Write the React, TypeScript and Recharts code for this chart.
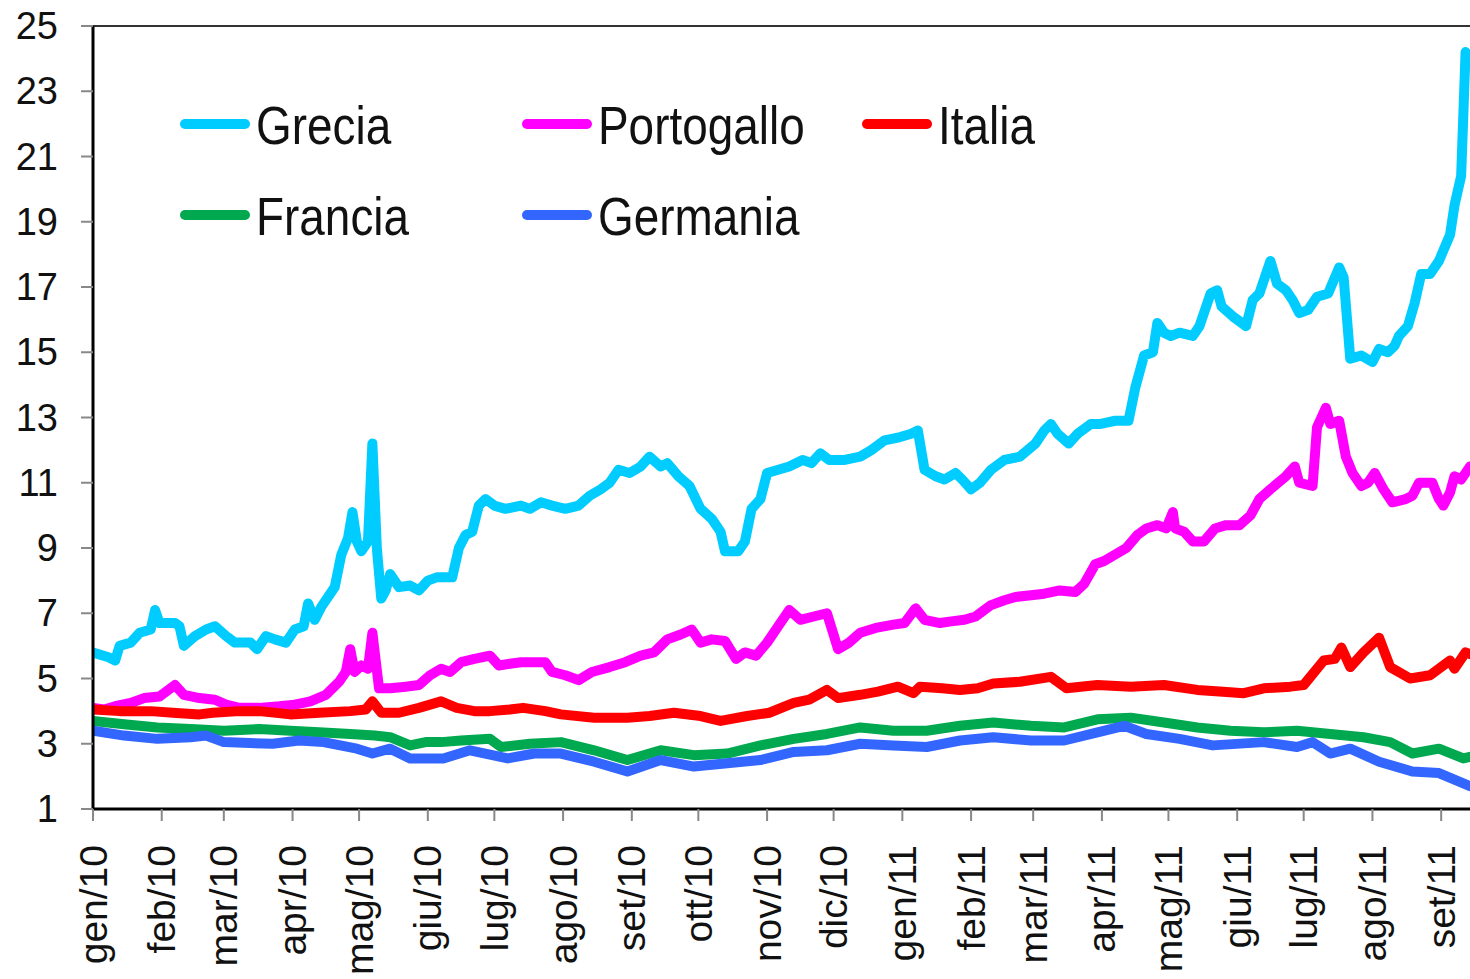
import React from "react";
import { LineChart, Line, XAxis, YAxis, ReferenceLine, Legend } from "recharts";

const monthTicks = [0, 31, 59, 90, 120, 151, 181, 212, 243, 273, 304, 334, 365, 396, 424, 455, 485, 516, 546, 577, 608];
const monthLabels = ["gen/10", "feb/10", "mar/10", "apr/10", "mag/10", "giu/10", "lug/10", "ago/10", "set/10", "ott/10", "nov/10", "dic/10", "gen/11", "feb/11", "mar/11", "apr/11", "mag/11", "giu/11", "lug/11", "ago/11", "set/11"];
const yTicks = [1, 3, 5, 7, 9, 11, 13, 15, 17, 19, 21, 23, 25];

// Grecia
const greciaDays = [0, 7, 10, 12, 17, 21, 26, 28, 30, 37, 39, 41, 46, 51, 55, 60, 64, 71, 74, 78, 82, 87, 91, 95, 97, 100, 103, 109, 112, 115, 117, 119, 121, 124, 126, 128, 130, 132, 134, 138, 143, 147, 151, 155, 162, 165, 168, 171, 174, 177, 181, 186, 193, 197, 202, 207, 213, 219, 224, 229, 233, 237, 242, 247, 251, 256, 259, 264, 269, 274, 279, 283, 285, 291, 294, 297, 301, 304, 309, 314, 320, 324, 328, 332, 339, 346, 351, 357, 364, 369, 372, 375, 380, 384, 389, 392, 396, 400, 405, 411, 418, 425, 429, 432, 435, 440, 444, 450, 454, 461, 467, 470, 474, 478, 480, 483, 486, 490, 496, 499, 504, 507, 509, 514, 520, 523, 526, 531, 534, 538, 541, 544, 548, 552, 557, 562, 564, 567, 572, 577, 580, 584, 587, 589, 593, 596, 599, 603, 607, 612, 614, 617, 619];
const greciaVals = [5.8, 5.65, 5.55, 6.0, 6.1, 6.4, 6.5, 7.1, 6.7, 6.7, 6.6, 6.0, 6.3, 6.5, 6.6, 6.3, 6.1, 6.1, 5.9, 6.3, 6.2, 6.1, 6.5, 6.6, 7.3, 6.8, 7.2, 7.8, 8.8, 9.3, 10.1, 9.2, 8.9, 9.2, 12.2, 9.0, 7.45, 7.7, 8.2, 7.8, 7.85, 7.7, 8.0, 8.1, 8.1, 9.0, 9.4, 9.5, 10.3, 10.5, 10.3, 10.2, 10.3, 10.2, 10.4, 10.3, 10.2, 10.3, 10.6, 10.8, 11.0, 11.4, 11.3, 11.5, 11.8, 11.5, 11.6, 11.2, 10.9, 10.2, 9.9, 9.5, 8.9, 8.9, 9.2, 10.2, 10.5, 11.3, 11.4, 11.5, 11.7, 11.6, 11.9, 11.7, 11.7, 11.8, 12.0, 12.3, 12.4, 12.5, 12.6, 11.4, 11.2, 11.1, 11.3, 11.1, 10.8, 11.0, 11.4, 11.7, 11.8, 12.2, 12.6, 12.8, 12.5, 12.2, 12.5, 12.8, 12.8, 12.9, 12.9, 13.9, 14.9, 15.0, 15.9, 15.6, 15.5, 15.6, 15.5, 15.8, 16.8, 16.9, 16.4, 16.1, 15.8, 16.6, 16.8, 17.8, 17.1, 16.9, 16.6, 16.2, 16.3, 16.7, 16.8, 17.6, 17.3, 14.8, 14.9, 14.7, 15.1, 15.0, 15.2, 15.5, 15.8, 16.5, 17.4, 17.4, 17.8, 18.6, 19.5, 20.4, 24.2];

// Portogallo
const portoDays = [0, 5, 10, 17, 23, 30, 35, 37, 41, 48, 55, 60, 66, 75, 84, 91, 98, 105, 111, 114, 116, 118, 121, 124, 126, 129, 134, 141, 147, 152, 157, 161, 166, 172, 179, 183, 188, 193, 199, 204, 207, 213, 219, 225, 233, 240, 247, 253, 259, 265, 270, 274, 279, 285, 290, 294, 299, 304, 309, 314, 319, 325, 331, 336, 341, 346, 353, 361, 366, 371, 375, 382, 387, 393, 398, 405, 411, 416, 423, 429, 436, 443, 447, 452, 456, 461, 466, 471, 475, 480, 484, 487, 488, 492, 496, 501, 506, 511, 517, 522, 526, 531, 538, 542, 544, 550, 552, 556, 558, 562, 565, 568, 572, 575, 578, 582, 586, 592, 595, 598, 604, 607, 609, 612, 614, 617, 621];
const portoVals = [4.1, 4.05, 4.15, 4.25, 4.4, 4.45, 4.7, 4.8, 4.5, 4.4, 4.35, 4.2, 4.1, 4.1, 4.15, 4.2, 4.3, 4.5, 4.9, 5.2, 5.9, 5.2, 5.4, 5.3, 6.4, 4.7, 4.7, 4.75, 4.8, 5.1, 5.3, 5.2, 5.5, 5.6, 5.7, 5.4, 5.45, 5.5, 5.5, 5.5, 5.2, 5.1, 4.95, 5.2, 5.35, 5.5, 5.7, 5.8, 6.2, 6.35, 6.5, 6.1, 6.2, 6.15, 5.6, 5.8, 5.7, 6.1, 6.6, 7.1, 6.8, 6.9, 7.0, 5.9, 6.1, 6.4, 6.55, 6.65, 6.7, 7.15, 6.8, 6.7, 6.75, 6.8, 6.9, 7.25, 7.4, 7.5, 7.55, 7.6, 7.7, 7.65, 7.9, 8.5, 8.6, 8.8, 9.0, 9.4, 9.6, 9.7, 9.6, 10.1, 9.6, 9.5, 9.2, 9.2, 9.6, 9.7, 9.7, 10.0, 10.5, 10.8, 11.2, 11.5, 11.0, 10.9, 12.7, 13.3, 12.8, 12.9, 11.8, 11.3, 10.9, 11.0, 11.3, 10.8, 10.4, 10.5, 10.6, 11.0, 11.0, 10.5, 10.3, 10.7, 11.2, 11.1, 11.5];

// Italia
const italiaDays = [0, 12, 26, 36, 48, 54, 66, 75, 89, 102, 116, 123, 126, 130, 138, 147, 157, 164, 172, 179, 188, 194, 204, 211, 226, 241, 251, 262, 274, 283, 295, 305, 316, 323, 331, 336, 346, 354, 363, 370, 373, 383, 391, 399, 406, 418, 432, 439, 453, 468, 483, 498, 508, 519, 528, 540, 546, 555, 560, 563, 567, 573, 580, 585, 594, 603, 612, 614, 619, 621];
const italiaVals = [4.05, 4.0, 4.0, 3.95, 3.9, 3.95, 4.0, 4.0, 3.9, 3.95, 4.0, 4.05, 4.3, 3.95, 3.95, 4.1, 4.3, 4.1, 4.0, 4.0, 4.05, 4.1, 4.0, 3.9, 3.8, 3.8, 3.85, 3.95, 3.85, 3.7, 3.85, 3.95, 4.25, 4.35, 4.65, 4.4, 4.5, 4.6, 4.75, 4.55, 4.75, 4.7, 4.65, 4.7, 4.85, 4.9, 5.05, 4.7, 4.8, 4.75, 4.8, 4.65, 4.6, 4.55, 4.7, 4.75, 4.8, 5.55, 5.6, 5.95, 5.35, 5.8, 6.25, 5.35, 5.0, 5.1, 5.55, 5.3, 5.8, 5.75];

// Francia
const franciaDays = [0, 14, 29, 44, 59, 75, 89, 102, 116, 127, 134, 143, 150, 157, 166, 179, 184, 197, 211, 226, 241, 256, 271, 286, 301, 316, 331, 346, 361, 376, 391, 406, 423, 438, 453, 468, 483, 498, 513, 528, 543, 558, 573, 585, 595, 607, 618, 621];
const franciaVals = [3.7, 3.6, 3.5, 3.45, 3.4, 3.45, 3.4, 3.35, 3.3, 3.25, 3.2, 2.95, 3.05, 3.05, 3.1, 3.15, 2.9, 3.0, 3.05, 2.8, 2.5, 2.8, 2.65, 2.7, 2.95, 3.15, 3.3, 3.5, 3.4, 3.4, 3.55, 3.65, 3.55, 3.5, 3.75, 3.8, 3.65, 3.5, 3.4, 3.35, 3.4, 3.3, 3.2, 3.05, 2.7, 2.85, 2.55, 2.6];

// Germania
const germaniaDays = [0, 14, 29, 44, 51, 59, 81, 93, 104, 119, 126, 134, 143, 158, 170, 187, 199, 211, 226, 241, 256, 271, 286, 301, 316, 331, 346, 361, 376, 391, 406, 423, 438, 453, 465, 475, 490, 505, 528, 543, 550, 558, 567, 580, 595, 607, 621];
const germaniaVals = [3.4, 3.25, 3.15, 3.2, 3.25, 3.05, 3.0, 3.1, 3.05, 2.85, 2.7, 2.85, 2.55, 2.55, 2.8, 2.55, 2.7, 2.7, 2.45, 2.15, 2.5, 2.3, 2.4, 2.5, 2.75, 2.8, 3.0, 2.95, 2.9, 3.1, 3.2, 3.1, 3.1, 3.35, 3.55, 3.3, 3.15, 2.95, 3.05, 2.9, 3.05, 2.7, 2.85, 2.45, 2.15, 2.1, 1.7];

const toData = (days: number[], vals: number[]) => days.map((d, i) => ({ day: d, v: vals[i] }));

const series = [
  { name: "Grecia", color: "#00CCFF", data: toData(greciaDays, greciaVals) },
  { name: "Portogallo", color: "#FF00FF", data: toData(portoDays, portoVals) },
  { name: "Italia", color: "#FF0000", data: toData(italiaDays, italiaVals) },
  { name: "Francia", color: "#00A94F", data: toData(franciaDays, franciaVals) },
  { name: "Germania", color: "#3366FF", data: toData(germaniaDays, germaniaVals) },
];

const FONT = '"Liberation Sans", Arial, Helvetica, sans-serif';

const legendLayout = [
  { name: "Grecia", left: 180, cy: 124 },
  { name: "Portogallo", left: 522, cy: 124 },
  { name: "Italia", left: 862, cy: 124 },
  { name: "Francia", left: 180, cy: 215 },
  { name: "Germania", left: 522, cy: 215 },
];

const LegendContent = () => (
  <div style={{ position: "relative", width: 1470, height: 300 }}>
    {legendLayout.map((it) => {
      const s = series.find((x) => x.name === it.name)!;
      return (
        <React.Fragment key={it.name}>
          <div
            style={{
              position: "absolute",
              left: it.left,
              top: it.cy - 5,
              width: 70,
              height: 10,
              borderRadius: 5,
              background: s.color,
            }}
          />
          <div
            style={{
              position: "absolute",
              left: it.left + 76,
              top: it.cy - 26,
              fontFamily: FONT,
              fontSize: 54,
              lineHeight: "54px",
              color: "#111",
              whiteSpace: "nowrap",
              transform: "scaleX(0.85)",
              transformOrigin: "left center",
            }}
          >
            {it.name}
          </div>
        </React.Fragment>
      );
    })}
  </div>
);

const XTick = (props: any) => {
  const { x, payload } = props;
  const idx = monthTicks.indexOf(payload.value);
  const label = idx >= 0 ? monthLabels[idx] : "";
  const y = 845;
  return (
    <text
      x={x}
      y={y}
      transform={`rotate(-90, ${x}, ${y})`}
      textAnchor="end"
      dominantBaseline="central"
      fontSize={39}
      fontFamily={FONT}
      fill="#111"
    >
      {label}
    </text>
  );
};

const YTick = (props: any) => {
  const { y, payload } = props;
  return (
    <text x={58} y={y} textAnchor="end" dominantBaseline="central" fontSize={38} fontFamily={FONT} fill="#111">
      {payload.value}
    </text>
  );
};

export default function App() {
  return (
    <div style={{ position: "absolute", left: 0, top: 0, width: 1470, height: 979, background: "#fff" }}>
      <LineChart width={1470} height={979} margin={{ top: 26, right: 0, bottom: 0, left: 0 }}>
        <XAxis
          dataKey="day"
          type="number"
          domain={[0, 621]}
          ticks={monthTicks}
          interval={0}
          allowDataOverflow
          height={170}
          tickSize={12}
          tickLine={{ stroke: "#888", strokeWidth: 2 }}
          axisLine={{ stroke: "#000", strokeWidth: 3 }}
          tick={<XTick />}
        />
        <YAxis
          type="number"
          domain={[1, 25]}
          ticks={yTicks}
          interval={0}
          width={93}
          tickSize={12}
          tickLine={{ stroke: "#888", strokeWidth: 2 }}
          axisLine={{ stroke: "#000", strokeWidth: 3 }}
          tick={<YTick />}
        />
        <ReferenceLine y={25} stroke="#333" strokeWidth={2} />
        <Legend
          layout="horizontal"
          verticalAlign="middle"
          align="center"
          content={<LegendContent />}
          wrapperStyle={{ position: "absolute", left: 0, top: 0, width: 1470, height: 300, margin: 0, padding: 0 }}
        />
        {series.map((s) => (
          <Line
            key={s.name}
            data={s.data}
            dataKey="v"
            name={s.name}
            type="linear"
            stroke={s.color}
            strokeWidth={10}
            strokeLinejoin="round"
            strokeLinecap="round"
            dot={false}
            activeDot={false}
            isAnimationActive={false}
          />
        ))}
      </LineChart>
    </div>
  );
}
